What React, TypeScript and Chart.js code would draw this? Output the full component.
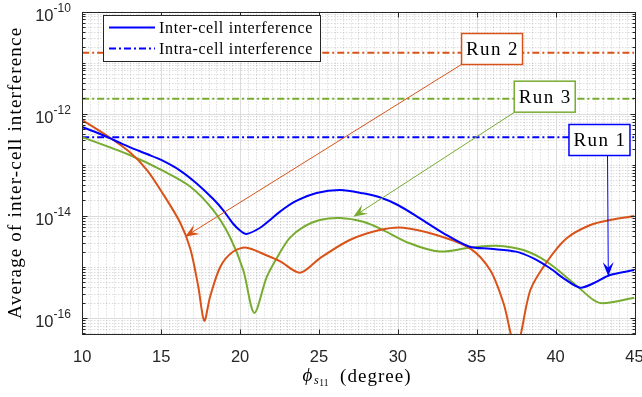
import React, { useEffect, useRef } from "react";
import { Chart, registerables } from "chart.js";

Chart.register(...registerables);

// ---------------- data ----------------
const X_MIN = 10;
const X_MAX = 45;
const Y_MIN = 4.86e-17;
const Y_MAX = 1e-10;
const X_TICKS = [10, 15, 20, 25, 30, 35, 40, 45];
const Y_TICK_EXP = [-16, -14, -12, -10];

// Run 1 (blue) inter-cell interference
const RUN1_X = [10, 10.9, 12, 13, 14.1, 15, 16.2, 17.25, 18.3, 18.95, 19.55, 20, 20.4, 21.25, 21.9, 22.55, 23.5, 24.85, 26.35, 27.8, 28.85, 30, 31.4, 32.9, 34.55, 35.85, 37.5, 38.6, 39.65, 40.6, 41.55, 42.4, 43.45, 45];
const RUN1_Y = [5.48e-13, 4.28e-13, 3.05e-13, 2.22e-13, 1.62e-13, 1.24e-13, 7.7e-14, 4.3e-14, 2.13e-14, 1.27e-14, 7.08e-15, 5.16e-15, 4.41e-15, 5.78e-15, 8.28e-15, 1.22e-14, 1.91e-14, 2.8e-14, 3.2e-14, 2.76e-14, 2.31e-14, 1.63e-14, 8.93e-15, 4.55e-15, 2.48e-15, 2.27e-15, 1.99e-15, 1.47e-15, 9.4e-16, 5.71e-16, 3.92e-16, 4.78e-16, 6.94e-16, 8.69e-16];

// Run 2 (orange)
const RUN2_X = [10, 11.55, 13, 14.1, 15, 16.2, 16.85, 17.35, 17.73, 18.1, 18.75, 19.55, 20.4, 21.7, 22.55, 23.8, 25.05, 26.95, 28.85, 30.35, 32.45, 34.55, 35.85, 36.7, 37.5, 38.4, 39.45, 40.7, 42.2, 43.45, 45];
const RUN2_Y = [7.52e-13, 3.73e-13, 1.77e-13, 7.88e-14, 3.06e-14, 7.4e-15, 2.24e-15, 4.13e-16, 8.85e-17, 2.61e-16, 1.01e-15, 1.98e-15, 2.38e-15, 1.67e-15, 1.28e-15, 7.7e-16, 1.47e-15, 3.36e-15, 5.27e-15, 5.85e-15, 4.21e-15, 2.34e-15, 8.69e-16, 1.94e-16, 2.5e-17, 3.53e-16, 1.26e-15, 3.63e-15, 6.61e-15, 8.28e-15, 9.9e-15];

// Run 3 (green)
const RUN3_X = [10, 13, 15, 16.85, 18.3, 19.35, 20.2, 20.9, 21.7, 22.55, 23.15, 24, 25.05, 26.35, 27.8, 28.85, 30.75, 32.65, 34.55, 36.25, 37.95, 39.45, 41.35, 42.4, 43, 45];
const RUN3_Y = [3.47e-13, 1.55e-13, 7.94e-14, 3.72e-14, 1.29e-14, 3.89e-15, 8.71e-16, 1.26e-16, 6.46e-16, 1.95e-15, 3.7e-15, 6.0e-15, 8.28e-15, 9.06e-15, 7.67e-15, 5.7e-15, 2.9e-15, 2.0e-15, 2.38e-15, 2.6e-15, 2.14e-15, 1.26e-15, 4.23e-16, 2.25e-16, 1.94e-16, 2.49e-16];

// Intra-cell interference levels (constant)
const INTRA_RUN1 = 3.44e-13;
const INTRA_RUN2 = 1.56e-11;
const INTRA_RUN3 = 1.96e-12;

const LEGEND_LABELS = ["Inter-cell interference", "Intra-cell interference"];

// text-arrow annotations
const ANNOT_LABELS = ["Run 2", "Run 3", "Run 1"];
const ANNOT_BOX_X = [35.97, 39.31, 42.78];
const ANNOT_BOX_Y = [1.845e-11, 2.15e-12, 3.05e-13];
const ANNOT_TAIL_X = [34.05, 37.38, 43.29];
const ANNOT_TAIL_Y = [9.25e-12, 1.06e-12, 1.53e-13];
const ANNOT_TIP_X = [16.51, 27.18, 43.34];
const ANNOT_TIP_Y = [3.9e-15, 9.6e-15, 6.6e-16];

// ---------------- styles ----------------
const BLUE = "#0000ff";
const ORANGE = "#d95319";
const GREEN = "#77ac30";
const ANNOT_COLORS = [ORANGE, GREEN, BLUE];
const AXIS = "#262626";
const DASHDOT = [7, 3, 2, 3];
const SERIF = '"Liberation Serif", "Times New Roman", serif';
const SANS = '"Liberation Sans", Arial, sans-serif';

const pts = (xs: number[], ys: number[]) => xs.map((x, i) => ({ x, y: ys[i] }));
const snap = (p: number) => Math.round(p) + 0.5;

function fitText(ctx: any, text: string, font: string, target: number) {
  ctx.font = font;
  ctx.letterSpacing = "0px";
  const w = ctx.measureText(text).width;
  const n = Array.from(text).length;
  ctx.letterSpacing = (target - w) / n + "px";
}

const matlabPlugin = {
  id: "matlabDecor",
  beforeDatasetsDraw(chart: any) {
    const { ctx, chartArea: a, scales } = chart;
    const xs = scales.x;
    const ys = scales.y;
    ctx.save();
    ctx.lineWidth = 1;
    // minor dotted grid
    ctx.strokeStyle = "rgba(0,0,0,0.2)";
    ctx.setLineDash([1, 2]);
    ctx.beginPath();
    for (let i = X_MIN * 2; i <= X_MAX * 2; i++) {
      const v = i / 2;
      if (X_TICKS.includes(v)) continue;
      const p = snap(xs.getPixelForValue(v));
      ctx.moveTo(p, a.top);
      ctx.lineTo(p, a.bottom);
    }
    for (let k = -17; k <= -11; k++) {
      for (let m = 1; m <= 9; m++) {
        const v = m * Math.pow(10, k);
        if (v < Y_MIN || v > Y_MAX) continue;
        if (m === 1 && Y_TICK_EXP.includes(k)) continue;
        const p = snap(ys.getPixelForValue(v));
        ctx.moveTo(a.left, p);
        ctx.lineTo(a.right, p);
      }
    }
    ctx.stroke();
    // major solid grid
    ctx.setLineDash([]);
    ctx.strokeStyle = "#dcdcdc";
    ctx.beginPath();
    for (const v of X_TICKS) {
      const p = snap(xs.getPixelForValue(v));
      ctx.moveTo(p, a.top);
      ctx.lineTo(p, a.bottom);
    }
    for (const e of Y_TICK_EXP) {
      const p = snap(ys.getPixelForValue(Math.pow(10, e)));
      ctx.moveTo(a.left, p);
      ctx.lineTo(a.right, p);
    }
    ctx.stroke();
    ctx.restore();
  },
  afterDatasetsDraw(chart: any) {
    const { ctx, chartArea: a, scales } = chart;
    const xs = scales.x;
    const ys = scales.y;
    ctx.save();

    // ---- annotations ----
    for (let i = 0; i < ANNOT_LABELS.length; i++) {
      const col = ANNOT_COLORS[i];
      const tx = xs.getPixelForValue(ANNOT_TAIL_X[i]);
      const ty = ys.getPixelForValue(ANNOT_TAIL_Y[i]);
      const hx = xs.getPixelForValue(ANNOT_TIP_X[i]);
      const hy = ys.getPixelForValue(ANNOT_TIP_Y[i]);
      const dx = hx - tx;
      const dy = hy - ty;
      const len = Math.hypot(dx, dy);
      const ux = dx / len;
      const uy = dy / len;
      const nx = -uy;
      const ny = ux;
      const L = 14;
      const W = 5.5;
      ctx.strokeStyle = col;
      ctx.fillStyle = col;
      ctx.lineWidth = 1;
      ctx.beginPath();
      ctx.moveTo(tx, ty);
      ctx.lineTo(hx - ux * 8, hy - uy * 8);
      ctx.stroke();
      ctx.beginPath();
      ctx.moveTo(hx, hy);
      ctx.lineTo(hx - ux * L + nx * W, hy - uy * L + ny * W);
      ctx.lineTo(hx - ux * L * 0.6, hy - uy * L * 0.6);
      ctx.lineTo(hx - ux * L - nx * W, hy - uy * L - ny * W);
      ctx.closePath();
      ctx.fill();

      const cx = xs.getPixelForValue(ANNOT_BOX_X[i]);
      const cy = ys.getPixelForValue(ANNOT_BOX_Y[i]);
      const bw = 61;
      const bh = 31;
      ctx.fillStyle = "#ffffff";
      ctx.fillRect(cx - bw / 2, cy - bh / 2, bw, bh);
      ctx.lineWidth = 1.5;
      ctx.strokeRect(cx - bw / 2, cy - bh / 2, bw, bh);
      ctx.fillStyle = "#000000";
      fitText(ctx, ANNOT_LABELS[i], `19px ${SERIF}`, 53);
      ctx.textAlign = "center";
      ctx.textBaseline = "middle";
      ctx.fillText(ANNOT_LABELS[i], cx + 0.5, cy + 1);
    }
    ctx.letterSpacing = "0px";

    // ---- axes box ----
    ctx.strokeStyle = AXIS;
    ctx.lineWidth = 1;
    ctx.setLineDash([]);
    const L0 = snap(a.left);
    const R0 = snap(a.right);
    const T0 = snap(a.top);
    const B0 = snap(a.bottom);
    ctx.strokeRect(L0, T0, R0 - L0, B0 - T0);
    ctx.beginPath();
    for (const v of X_TICKS) {
      const p = snap(xs.getPixelForValue(v));
      ctx.moveTo(p, B0);
      ctx.lineTo(p, B0 - 5);
      ctx.moveTo(p, T0);
      ctx.lineTo(p, T0 + 5);
    }
    for (let k = -17; k <= -10; k++) {
      for (let m = 1; m <= 9; m++) {
        const v = m * Math.pow(10, k);
        if (v < Y_MIN || v > Y_MAX) continue;
        const major = m === 1 && Y_TICK_EXP.includes(k);
        const len = major ? 5 : 3;
        const p = snap(ys.getPixelForValue(v));
        ctx.moveTo(L0, p);
        ctx.lineTo(L0 + len, p);
        ctx.moveTo(R0, p);
        ctx.lineTo(R0 - len, p);
      }
    }
    ctx.stroke();

    // ---- tick labels ----
    ctx.fillStyle = AXIS;
    ctx.textBaseline = "alphabetic";
    ctx.font = `16.5px ${SANS}`;
    ctx.textAlign = "center";
    for (const v of X_TICKS) {
      ctx.fillText(String(v), xs.getPixelForValue(v), 361.5);
    }
    for (const e of Y_TICK_EXP) {
      const p = ys.getPixelForValue(Math.pow(10, e));
      ctx.font = `16.5px ${SANS}`;
      ctx.textAlign = "right";
      ctx.fillText("10", 53.5, p + 9.5);
      ctx.font = `12px ${SANS}`;
      ctx.textAlign = "left";
      ctx.fillText(String(e), 53.5, p + 0.5);
    }

    // ---- axis titles ----
    ctx.fillStyle = "#000000";
    ctx.save();
    ctx.translate(21, (a.top + a.bottom) / 2);
    ctx.rotate(-Math.PI / 2);
    ctx.textAlign = "center";
    fitText(ctx, "Average of inter-cell interference", `19px ${SERIF}`, 292);
    ctx.fillText("Average of inter-cell interference", 0, 0);
    ctx.restore();
    ctx.letterSpacing = "0px";

    ctx.textAlign = "left";
    ctx.font = `italic 19px ${SERIF}`;
    ctx.fillText("\u03D5", 302.5, 381);
    ctx.font = `italic 12px ${SERIF}`;
    ctx.fillText("s", 314, 383.5);
    ctx.font = `9.5px ${SERIF}`;
    ctx.fillText("11", 319.3, 386);
    fitText(ctx, "(degree)", `19px ${SERIF}`, 71.7);
    ctx.fillText("(degree)", 340, 381.5);
    ctx.letterSpacing = "0px";

    // ---- legend ----
    const lx = 103.5;
    const ly = 15.5;
    ctx.fillStyle = "#ffffff";
    ctx.fillRect(lx, ly, 217, 46);
    ctx.strokeStyle = AXIS;
    ctx.lineWidth = 1;
    ctx.strokeRect(lx, ly, 217, 46);
    const rows = [27.5, 48.5];
    for (let r = 0; r < 2; r++) {
      ctx.strokeStyle = BLUE;
      ctx.lineWidth = 2;
      ctx.setLineDash(r === 0 ? [] : DASHDOT);
      ctx.beginPath();
      ctx.moveTo(109, rows[r]);
      ctx.lineTo(155, rows[r]);
      ctx.stroke();
      ctx.setLineDash([]);
      ctx.fillStyle = "#000000";
      ctx.textAlign = "left";
      ctx.textBaseline = "middle";
      fitText(ctx, LEGEND_LABELS[r], `16px ${SERIF}`, 154);
      ctx.fillText(LEGEND_LABELS[r], 159, rows[r] + 1);
      ctx.letterSpacing = "0px";
    }
    ctx.restore();
  },
};

export default function App() {
  const ref = useRef<HTMLCanvasElement | null>(null);
  useEffect(() => {
    if (!ref.current) return;
    const line = (data: any, color: string, dash: number[] | null) => ({
      data,
      borderColor: color,
      backgroundColor: color,
      borderWidth: 2,
      pointRadius: 0,
      fill: false,
      tension: 0.3,
      borderDash: dash || [],
    });
    const chart = new Chart(ref.current, {
      type: "line",
      data: {
        datasets: [
          line(pts(RUN1_X, RUN1_Y), BLUE, null),
          line(pts(RUN2_X, RUN2_Y), ORANGE, null),
          line(pts(RUN3_X, RUN3_Y), GREEN, null),
          line(pts([X_MIN, X_MAX], [INTRA_RUN1, INTRA_RUN1]), BLUE, DASHDOT),
          line(pts([X_MIN, X_MAX], [INTRA_RUN2, INTRA_RUN2]), ORANGE, DASHDOT),
          line(pts([X_MIN, X_MAX], [INTRA_RUN3, INTRA_RUN3]), GREEN, DASHDOT),
        ] as any,
      },
      options: {
        animation: false,
        responsive: false,
        devicePixelRatio: 1,
        events: [],
        layout: { padding: { left: 82.3, right: 7.5, top: 11.5, bottom: 63 } },
        scales: {
          x: { type: "linear", min: X_MIN, max: X_MAX, display: false },
          y: { type: "logarithmic", min: Y_MIN, max: Y_MAX, display: false },
        },
        plugins: { legend: { display: false }, tooltip: { enabled: false } },
      } as any,
      plugins: [matlabPlugin as any],
    });
    return () => chart.destroy();
  }, []);
  return (
    <div style={{ position: "fixed", left: 0, top: 0, width: 642, height: 397, background: "#fff" }}>
      <canvas ref={ref} width={642} height={397} style={{ display: "block" }} />
    </div>
  );
}
